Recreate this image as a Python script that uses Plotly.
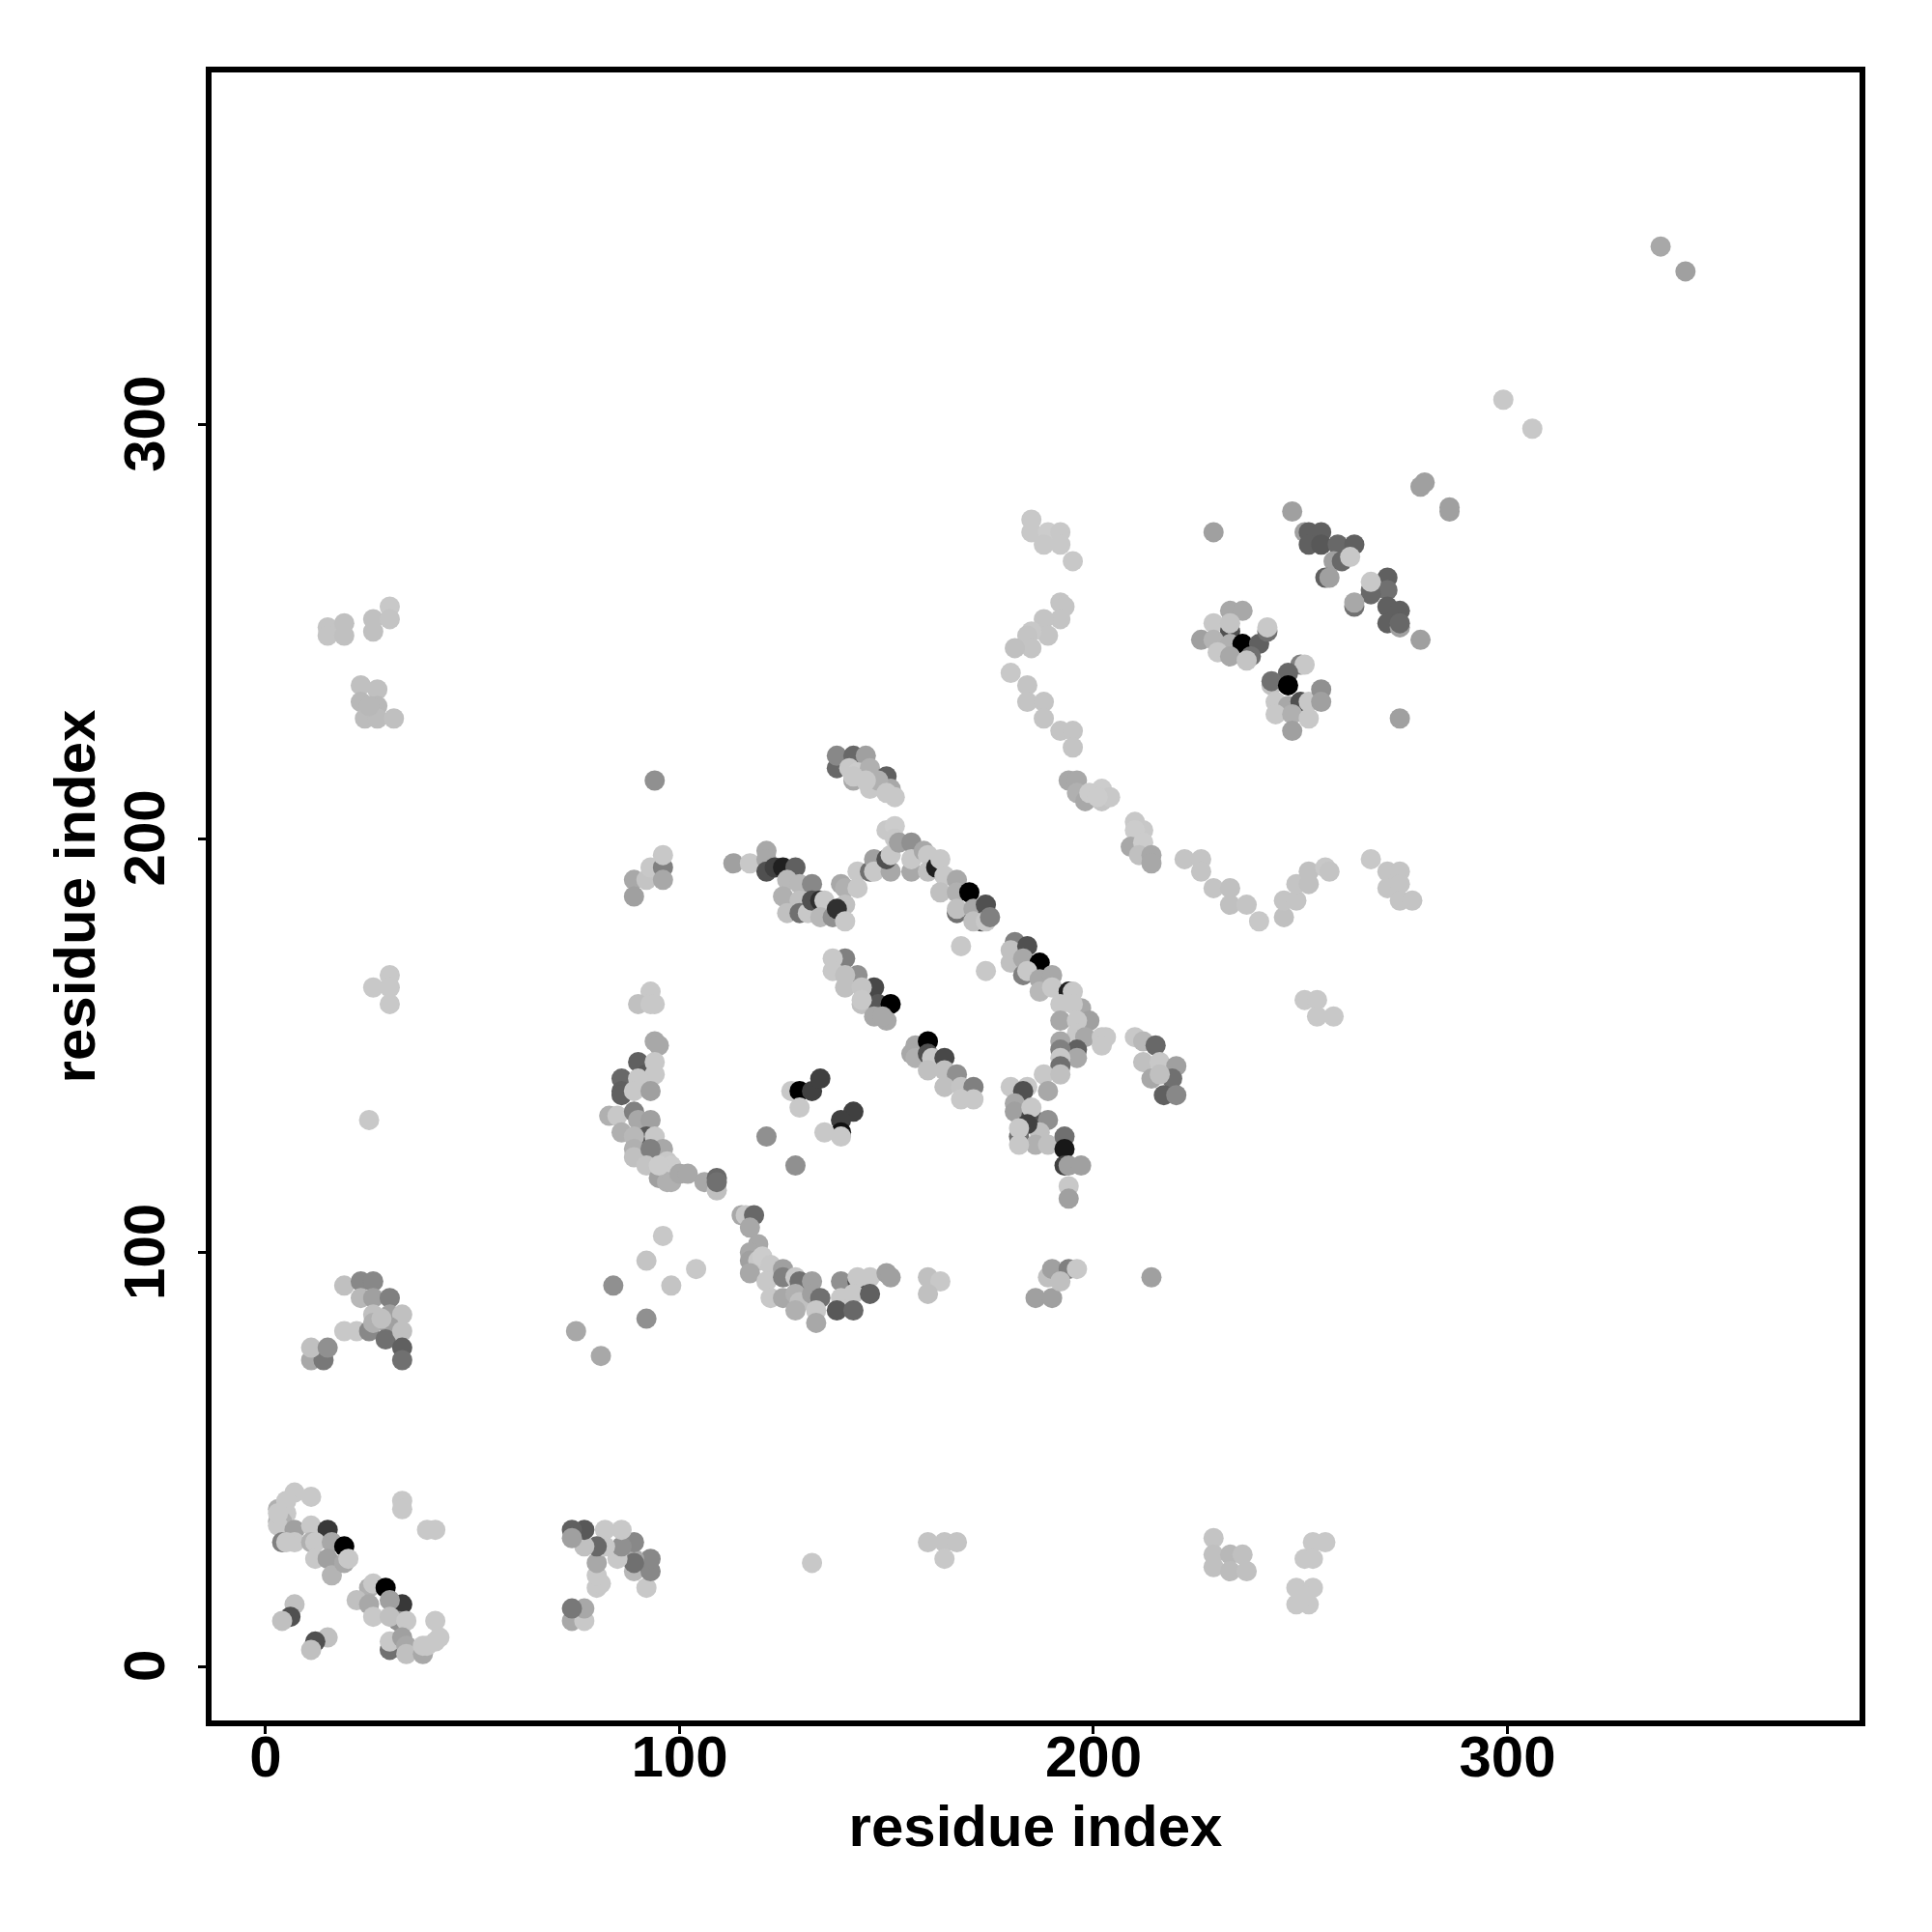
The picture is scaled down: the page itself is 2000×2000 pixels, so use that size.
import plotly.graph_objects as go

# residue i, residue j, grey level (0-255), region by region
a_x = [33,33,39,41,3,5,4,7,3,5,3,3,7,11,11,15,4,7,5,11,12,16,19,12,15,16,19,20,7,6,4,15,12,11]
a_y = [40,38,33,33,38,37,35,42,35,40,34,37,33,34,41,33,30,30,30,30,30,30,29,26,26,22,25,26,15,12,11,7,6,4]
a_g = [200,200,200,200,176,200,176,200,176,200,200,200,160,200,200,56,128,200,200,176,200,168,0,200,160,180,168,200,192,80,192,192,80,192]

b_x = [25,26,22,25,33,29,30,26,32,30,34,41,30,30,33,34,34,38,38,39,41,42]
b_y = [19,20,16,15,15,19,16,12,11,12,11,11,4,6,7,5,3,3,5,5,6,7]
b_g = [176,200,192,168,56,0,160,200,144,192,200,200,112,200,160,168,192,168,200,200,200,200]

c_x = [74,74,77,77,80,82,86,82,86,89,80,85,89,89,93,93,89,92,80,81,80,74,77,77,74]
c_y = [31,33,33,29,29,33,33,29,29,30,25,26,25,26,26,23,23,19,22,20,19,14,14,11,11]
c_g = [160,96,88,192,104,200,200,200,144,136,168,200,112,168,136,136,184,200,200,200,200,120,168,200,168]
c_x = c_x[::-1]; c_y = c_y[::-1]; c_g = c_g[::-1]

d_x = [132,160,164,167,164,229,229,229,233,233,236,237,253,256,251,253,249,253,249,252,251]
d_y = [25,30,30,30,26,31,27,24,27,23,27,23,30,30,26,26,19,19,15,15,17]
d_g = [200,196,196,196,200,196,192,192,184,188,192,192,200,200,200,200,200,200,200,200,200]

e_x = [11,14,11,15,19,22,19,23,26,23,26,25,26,30,30,33,26,30,29,33,33,33,28]
e_y = [74,74,77,77,81,81,92,93,93,89,89,81,85,89,85,85,83,82,79,81,77,74,84]
e_g = [168,120,192,144,200,200,192,136,136,184,160,136,192,128,160,192,176,160,112,192,96,112,192]

f_x = [15,15,19,19,26,26,30,30,23,27,23,27,24,27,31,25,26,30,30,30,25]
f_y = [251,249,252,249,253,250,256,253,237,236,233,232,229,229,229,232,164,167,164,160,132]
f_g = [196,196,192,192,192,192,200,196,192,192,184,184,188,188,192,184,200,200,200,200,200]

g_x = [75,81,84,92,92,96,98,104,89,89,92,93,96,96,96,94,93,90,93,94]
g_y = [81,75,92,84,98,104,92,96,190,186,190,193,193,190,196,214,163,160,160,160]
g_g = [168,168,144,144,196,200,196,200,168,160,196,200,128,168,200,144,200,192,200,200]

h_x = [94,95,90,86,86,86,92,94,94,90,89,93,83,85,89,90,93,86,92,94,89,89,96,89,93,92,97,98,95,97,98,100,102,95,106,109,109,109]
h_y = [151,150,146,142,139,138,143,146,143,142,139,139,133,133,134,132,132,129,128,128,128,125,125,123,125,121,122,121,118,117,117,119,119,121,117,115,118,117]
h_g = [168,168,96,104,96,96,88,200,200,200,200,160,176,200,128,168,160,176,88,200,184,176,168,192,128,196,200,204,160,176,176,168,168,204,168,192,104,112]

i_x = [115,116,118,117,119,117,117,119,120,122,117,121,125,125,122,125,128,129,132,128,129,128,132,134,133,133,139,143,143,146,150,151,139,142,146,138,142,160,163,160]
i_y = [109,109,109,106,102,100,98,98,99,97,95,93,96,94,89,89,94,93,93,90,88,86,90,89,86,83,93,93,94,94,95,94,89,90,90,86,86,94,93,90]
i_g = [168,200,104,168,168,168,160,200,204,200,168,200,160,128,200,168,200,112,160,176,192,176,160,112,200,168,144,80,200,200,160,160,200,200,96,88,104,192,200,192]

j_x = [127,129,132,134,129,142,139,139,135,139,121,128]
j_y = [139,139,139,142,135,134,132,129,129,128,128,121]
j_g = [200,0,64,64,200,64,64,16,200,200,144,144]

k_x = [138,138,142,145,141,142,143,146,146,150,151,152,142,148,145,150]
k_y = [217,220,220,220,217,214,216,217,212,215,212,210,215,214,214,211]
k_g = [104,136,104,160,200,168,204,176,200,96,168,200,200,176,200,200]

m_x = [113,117,121,121,121,123,125,128,126,129,132,125,129,126,129,131,132,134,135,134,137,139,140,140,138,140,143,143]
m_y = [194,194,197,195,192,193,193,193,190,189,189,186,185,182,182,182,185,185,185,181,181,189,188,184,183,180,192,188]
m_g = [160,200,168,168,80,64,32,96,184,184,136,176,192,192,112,200,80,48,200,184,144,168,176,192,48,200,200,200]

n_x = [146,147,147,150,152,152,151,150,151,153,156,156,156,159,160,160,162,163,164,167,163,167,170,167,167,171,174,173,171,174,175]
n_y = [192,195,192,202,203,200,192,195,196,199,199,192,195,197,196,192,193,195,191,190,187,187,187,182,183,183,184,180,180,180,181]
n_g = [112,160,200,200,204,200,168,80,200,160,144,168,200,168,200,192,32,200,200,168,192,176,0,112,192,168,80,80,192,200,128]

o_x = [168,174,137,137,143,140,140,147,144,144,148,151,147,150,144,149]
o_y = [174,168,171,168,167,167,164,164,164,160,160,160,157,156,161,157]
o_g = [200,200,200,200,144,192,192,72,196,192,88,0,168,168,200,168]
o_x2 = [140]
o_y2 = [171]
o_g2 = [128]

p_x = [157,156,157,160,160,161,164,160,164,167,164,168,171,168,171]
p_y = [150,148,147,151,148,147,147,144,144,143,140,140,140,137,137]
p_g = [168,168,176,0,80,200,72,192,192,144,192,196,128,200,200]

q_x = [181,180,180,184,183,187,183,184,187,190,187,190,194,195,192,197,195,192,199,196,196,192,198,202,203,202,196,192,196,192,192,188,192]
q_y = [175,173,170,174,171,170,167,168,166,167,163,164,163,163,160,159,160,156,156,156,153,151,152,152,152,150,149,149,147,147,145,143,143]
q_g = [128,192,192,80,168,0,128,200,168,168,184,200,32,200,200,168,200,168,160,200,200,168,168,200,200,200,96,128,168,200,112,200,192]

r_x = [180,184,183,189,181,181,185,185,189,187,184,182,182,186,182,189,193,193,193,194,197,194,194]
r_y = [140,140,139,139,136,134,133,135,132,129,131,128,130,126,126,126,128,125,121,121,121,116,113]
r_g = [200,200,80,168,168,160,80,200,144,192,64,112,200,176,200,192,112,24,64,160,160,200,160]

s_x = [210,212,215,212,216,220,219,214,216,217,220,214,186,190,189,190,194,196,192]
s_y = [152,151,150,146,146,145,142,142,143,138,138,94,89,89,94,96,96,96,93]
s_g = [200,184,104,192,200,160,112,168,192,96,136,160,160,160,192,160,128,200,192]

t_x = [251,254,254,258,185,185,189,192,188,192,195,192,193,192,188,189,185,184,185,181,180,184,184,188,188,192,195,195]
t_y = [161,161,157,157,277,274,274,274,271,271,267,257,256,253,253,249,250,249,246,246,240,237,233,233,229,226,226,222]
t_g = [200,200,200,200,200,200,204,200,200,200,200,196,196,196,196,196,200,196,196,192,200,196,196,196,196,196,196,196]

u_x = [194,196,196,198,199,202,202,204,201,210,212,210,209,212,211,214,214]
u_y = [214,214,211,209,211,212,209,210,210,204,202,202,198,199,196,196,194]
u_g = [168,168,176,168,204,204,196,200,204,200,200,204,168,204,192,168,168]

v_x = [222,226,226,229,233,233,237,240,246,246,249,249,252,252,256,257,267,271,274,271,274,274,277]
v_y = [195,195,192,188,188,184,184,180,181,185,185,189,189,192,193,192,195,192,192,188,189,185,185]
v_g = [196,196,196,196,192,192,196,200,192,196,196,196,192,192,200,196,200,196,196,196,196,196,196]

w_x = [233,236,229,233,233,226,229,233,236,240,242,242,238,230,233,237,250,251,247,243,243,247,244,247,250,252,255,255,244,248,252,248,274,229]
w_y = [255,255,252,250,252,248,248,247,247,247,250,251,244,245,244,243,242,242,240,237,238,237,233,232,233,233,236,233,230,230,229,226,229,274]
w_g = [168,168,200,80,196,160,180,176,0,96,112,200,112,200,168,196,128,200,104,192,112,0,200,168,80,200,144,160,200,176,200,160,160,160]

z_x = [248,251,252,255,252,255,259,263,258,260,262,256,257,271,271,267,267,267,263,263,271,274,271,274,274,279,279,280,286,286,299,306,337,343]
z_y = [279,274,274,274,271,271,271,271,267,267,268,263,263,263,260,260,259,262,256,257,256,255,252,251,252,248,285,286,279,280,306,299,343,337]
z_g = [160,160,96,96,96,88,104,96,160,104,200,96,160,96,112,112,104,200,112,168,96,96,96,160,104,160,160,160,160,160,200,200,168,160]

xs = a_x + b_x + c_x + d_x + e_x + f_x + g_x + h_x + i_x + j_x + k_x + m_x + n_x + o_x2 + o_x + p_x + q_x + r_x + s_x + t_x + u_x + v_x + w_x + z_x
ys = a_y + b_y + c_y + d_y + e_y + f_y + g_y + h_y + i_y + j_y + k_y + m_y + n_y + o_y2 + o_y + p_y + q_y + r_y + s_y + t_y + u_y + v_y + w_y + z_y
gs = a_g + b_g + c_g + d_g + e_g + f_g + g_g + h_g + i_g + j_g + k_g + m_g + n_g + o_g2 + o_g + p_g + q_g + r_g + s_g + t_g + u_g + v_g + w_g + z_g

tick_values = [0, 100, 200, 300]
axis_title = "residue index"
FONT = "Liberation Sans"

fig = go.Figure(go.Scatter(
    x=xs, y=ys, mode="markers",
    marker=dict(size=21, color=[f"rgb({g},{g},{g})" for g in gs], line=dict(width=0)),
    hoverinfo="skip",
))

def axis(standoff, label_shift, suffix="", **extra):
    return dict(
        range=[-13.05, 385.05], tickmode="array", tickvals=tick_values,
        ticktext=[str(v) + suffix for v in tick_values],
        ticks="outside", ticklen=8, tickwidth=3, tickcolor="black",
        ticklabelstandoff=label_shift,
        tickfont=dict(family=FONT, size=60, color="black", weight="bold"),
        showline=True, linecolor="black", linewidth=6, mirror=True,
        showgrid=False, zeroline=False,
        title=dict(text=axis_title, standoff=standoff,
                   font=dict(family=FONT, size=60, color="black", weight="bold")),
        **extra,
    )

fig.update_layout(
    width=2000, height=2000, autosize=False,
    paper_bgcolor="white", plot_bgcolor="white", showlegend=False,
    margin=dict(l=211, r=83, t=67, b=227, autoexpand=False),
    xaxis=axis(20, -28),
    yaxis=axis(0, 11, suffix="\u00a0", tickangle=-90),
)
fig.write_html("out.html")
